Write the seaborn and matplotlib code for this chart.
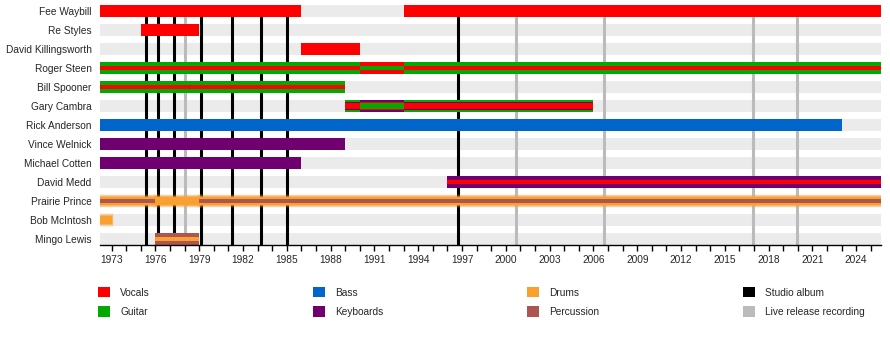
import matplotlib
matplotlib.use("Agg")
import matplotlib.pyplot as plt
import seaborn as sns
from matplotlib.patches import Patch

# ---------------- data ----------------
members = ["Fee Waybill", "Re Styles", "David Killingsworth", "Roger Steen",
           "Bill Spooner", "Gary Cambra", "Rick Anderson", "Vince Welnick",
           "Michael Cotten", "David Medd", "Prairie Prince", "Bob McIntosh",
           "Mingo Lewis"]

timeline_start = 1972.2
timeline_end = 2025.7

role_names = ["Vocals", "Guitar", "Bass", "Keyboards", "Drums", "Percussion"]
role_colors = ["#FF0000", "#00AA00", "#0066CC", "#700070", "#F9A030", "#AD5550"]

# each period: member, start, end, roles (outer -> centre)
period_member = ["Fee Waybill", "Fee Waybill", "Re Styles", "David Killingsworth",
                 "Roger Steen", "Roger Steen", "Roger Steen", "Bill Spooner",
                 "Gary Cambra", "Gary Cambra", "Gary Cambra", "Rick Anderson",
                 "Vince Welnick", "Michael Cotten", "David Medd",
                 "Prairie Prince", "Prairie Prince", "Prairie Prince",
                 "Bob McIntosh", "Mingo Lewis"]
period_start = [1972.2, 1993.0, 1975.0, 1986.0,
                1972.2, 1990.0, 1993.0, 1972.2,
                1989.0, 1990.0, 1993.0, 1972.2,
                1972.2, 1972.2, 1996.0,
                1972.2, 1976.0, 1979.0,
                1972.2, 1976.0]
period_end = [1986.0, 2025.7, 1979.0, 1990.0,
              1990.0, 1993.0, 2025.7, 1989.0,
              1990.0, 1993.0, 2006.0, 2023.0,
              1989.0, 1986.0, 2025.7,
              1976.0, 1979.0, 2025.7,
              1973.0, 1979.0]
period_roles = [("Vocals",), ("Vocals",), ("Vocals",), ("Vocals",),
                ("Guitar", "Vocals"), ("Vocals", "Guitar"), ("Guitar", "Vocals"),
                ("Guitar", "Vocals"),
                ("Guitar", "Keyboards", "Vocals"), ("Keyboards", "Vocals", "Guitar"),
                ("Guitar", "Keyboards", "Vocals"),
                ("Bass",), ("Keyboards",), ("Keyboards",), ("Keyboards", "Vocals"),
                ("Drums", "Percussion"), ("Drums",), ("Drums", "Percussion"),
                ("Drums",), ("Percussion", "Drums")]

studio_albums = [1975.35, 1976.2, 1977.3, 1979.15, 1981.27, 1983.25, 1985.03, 1996.75]
live_releases = [1978.05, 2000.72, 2006.75, 2016.95, 2019.97]

major_ticks = list(range(1973, 2025, 3))
minor_ticks = list(range(1973, 2026))

# ---------------- style ----------------
sns.set_theme(style="white")
plt.rcParams["font.family"] = ["Liberation Sans", "DejaVu Sans"]
FS = 7.3

fig = plt.figure(figsize=(8.9, 3.4), dpi=100)
ax = fig.add_axes([100 / 890, 1 - 245 / 340, 781 / 890, 240 / 340])

color_of = dict(zip(role_names, role_colors))
ypos = {m: i for i, m in enumerate(members)}
H = 0.63

# background bands
ax.barh(list(range(len(members))), [timeline_end - timeline_start] * len(members),
        left=timeline_start, height=H, color="#EBEBEB", zorder=0, linewidth=0)

# album lines
for x in studio_albums:
    ax.axvline(x, color="black", lw=2.2, zorder=1)
for x in live_releases:
    ax.axvline(x, color="#BBBBBB", lw=2.2, zorder=1)

heights = {1: [H], 2: [H, 0.25], 3: [H, 0.46, 0.28]}

def draw_bar(y, s, e, role, h, z):
    c = color_of[role]
    if role == "Drums":
        # soft blurred edges
        core = h * 0.72
        for k, a in [(3, 0.12), (2, 0.25), (1, 0.5)]:
            ax.barh(y, e - s + 0.12 * k, left=s - 0.06 * k, height=core + 0.09 * k,
                    color=c, alpha=a, linewidth=0, zorder=z)
        ax.barh(y, e - s, left=s, height=core, color=c, linewidth=0, zorder=z)
    else:
        ax.barh(y, e - s, left=s, height=h, color=c, linewidth=0, zorder=z)

for m, s, e, roles in zip(period_member, period_start, period_end, period_roles):
    y = ypos[m]
    hs = heights[len(roles)]
    for j, (r, h) in enumerate(zip(roles, hs)):
        if j > 0 and r == "Drums":
            ax.barh(y, e - s, left=s, height=h, color=color_of[r], linewidth=0, zorder=2 + j)
        else:
            draw_bar(y, s, e, r, h, 2 + j)

ax.set_xlim(timeline_start, timeline_end)
ax.set_ylim(len(members) - 1 + 0.315, -0.315)
ax.set_yticks(range(len(members)))
ax.set_yticklabels(members, fontsize=FS)
ax.set_xticks(major_ticks)
ax.set_xticklabels([str(t) for t in major_ticks], fontsize=FS)
ax.set_xticks(minor_ticks, minor=True)
ax.tick_params(axis="x", which="both", direction="out", length=4, width=1,
               color="black", bottom=True, pad=3)
ax.tick_params(axis="y", length=0, pad=6)
for side in ["top", "right", "left"]:
    ax.spines[side].set_visible(False)
ax.spines["bottom"].set_color("black")
ax.spines["bottom"].set_linewidth(1)
ax.grid(False)

# legend
legend_groups = [
    (["Vocals", "Guitar"], [color_of["Vocals"], color_of["Guitar"]], 98),
    (["Bass", "Keyboards"], [color_of["Bass"], color_of["Keyboards"]], 313),
    (["Drums", "Percussion"], [color_of["Drums"], color_of["Percussion"]], 527),
    (["Studio album", "Live release recording"], ["black", "#BBBBBB"], 743),
]
for labels, cols, xpx in legend_groups:
    handles = [Patch(facecolor=c, edgecolor="none") for c in cols]
    fig.legend(handles, labels, loc="upper left",
               bbox_to_anchor=(xpx / 890, 1 - 287 / 340), frameon=False,
               fontsize=FS, handlelength=1.2, handleheight=1.2,
               handletextpad=1.0, labelspacing=0.85, borderpad=0, borderaxespad=0)

fig.savefig("out.png", dpi=100)
